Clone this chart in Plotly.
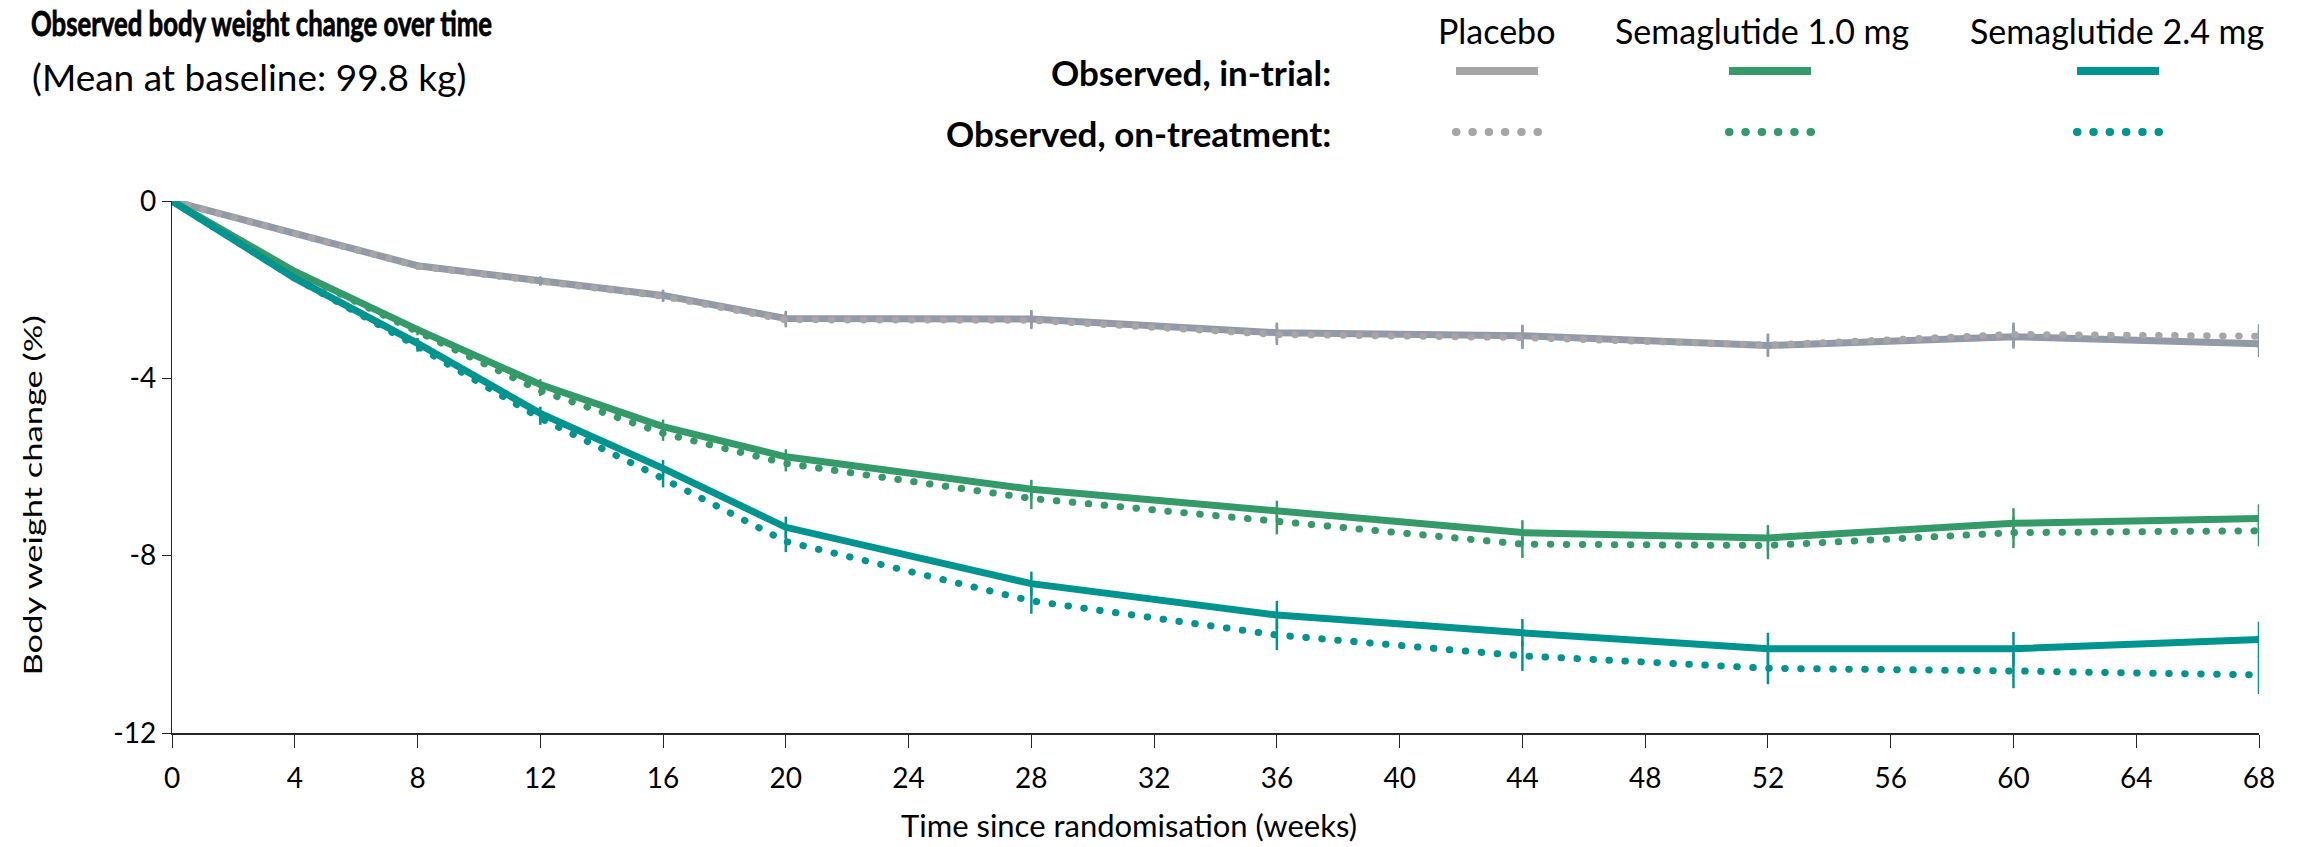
import json
import plotly.graph_objects as go

# ---- data -------------------------------------------------------------
weeks = [0, 4, 8, 12, 16, 20, 28, 36, 44, 52, 60, 68]

placebo_in_trial = [0, -0.74, -1.46, -1.80, -2.13, -2.65, -2.66, -2.97, -3.04, -3.26, -3.06, -3.22]
placebo_on_treat = [0, -0.74, -1.47, -1.81, -2.15, -2.68, -2.69, -3.01, -3.08, -3.25, -3.01, -3.05]
sema10_in_trial = [0, -1.59, -2.90, -4.14, -5.09, -5.77, -6.50, -6.99, -7.48, -7.60, -7.27, -7.16]
sema10_on_treat = [0, -1.60, -2.95, -4.28, -5.24, -5.92, -6.71, -7.23, -7.74, -7.77, -7.48, -7.44]
sema24_in_trial = [0, -1.74, -3.21, -4.79, -6.03, -7.36, -8.63, -9.34, -9.74, -10.10, -10.10, -9.89]
sema24_on_treat = [0, -1.74, -3.28, -4.90, -6.26, -7.68, -9.02, -9.79, -10.26, -10.54, -10.60, -10.69]

placebo_in_trial_err = [0, 0.05, 0.08, 0.10, 0.13, 0.17, 0.20, 0.23, 0.25, 0.25, 0.27, 0.30]
placebo_on_treat_err = [0, 0.05, 0.08, 0.10, 0.13, 0.17, 0.20, 0.24, 0.26, 0.26, 0.27, 0.27]
sema10_in_trial_err = [0, 0.05, 0.08, 0.12, 0.16, 0.17, 0.21, 0.23, 0.28, 0.29, 0.34, 0.32]
sema10_on_treat_err = [0, 0.05, 0.08, 0.12, 0.17, 0.18, 0.24, 0.29, 0.31, 0.31, 0.35, 0.35]
sema24_in_trial_err = [0, 0.06, 0.12, 0.15, 0.19, 0.24, 0.27, 0.32, 0.31, 0.36, 0.38, 0.40]
sema24_on_treat_err = [0, 0.06, 0.12, 0.15, 0.20, 0.24, 0.29, 0.34, 0.34, 0.36, 0.39, 0.43]

group_names = ["Placebo", "Semaglutide 1.0 mg", "Semaglutide 2.4 mg"]
row_labels = ["Observed, in-trial:", "Observed, on-treatment:"]
x_ticks = list(range(0, 72, 4))
y_ticks = [0, -4, -8, -12]

# ---- styling ----------------------------------------------------------
W, H = 2305, 847
L, R, T, B = 172, 46, 201, 114
FONT = "Lato"
LINE_W = 7
DOT_DASH = "0.5px,15.5px"

solid_colors = ["#9299A7", "#359A69", "#009490"]
dot_colors = ["#A6A6A6", "#359A69", "#009490"]
legend_solid_colors = ["#A6A6A6", "#359A69", "#009490"]

series = [
    (placebo_in_trial, placebo_in_trial_err, placebo_on_treat, placebo_on_treat_err),
    (sema10_in_trial, sema10_in_trial_err, sema10_on_treat, sema10_on_treat_err),
    (sema24_in_trial, sema24_in_trial_err, sema24_on_treat, sema24_on_treat_err),
]

fig = go.Figure()
for i, (it, it_err, ot, ot_err) in enumerate(series):
    fig.add_trace(go.Scatter(
        x=weeks, y=it, mode="lines", name=group_names[i] + " in-trial",
        line=dict(color=solid_colors[i], width=LINE_W),
        error_y=dict(type="data", array=it_err, color=solid_colors[i], thickness=2.5, width=0),
        cliponaxis=False, showlegend=False, hoverinfo="skip",
    ))
    fig.add_trace(go.Scatter(
        x=weeks, y=ot, mode="lines", name=group_names[i] + " on-treatment",
        line=dict(color=dot_colors[i], width=LINE_W, dash=DOT_DASH),
        error_y=dict(type="data", array=ot_err, color=solid_colors[i], thickness=2.5, width=0),
        cliponaxis=False, showlegend=False, hoverinfo="skip",
    ))

PW, PH = W - L - R, H - T - B


def px(xp):
    return (xp - L) / PW


def py(yp):
    return (H - B - yp) / PH


annotations = []
shapes = []
text_lengths = {}  # annotation index -> rendered text length in px
heavy = []         # annotation indices drawn with a thin outline for extra weight


def note(text, x, y, size, xanchor="center", angle=0, length=None, weight="normal", outline=False):
    if length is not None:
        text_lengths[len(annotations)] = length
    if outline:
        heavy.append(len(annotations))
    annotations.append(dict(text=text, x=px(x), y=py(y), xref="paper", yref="paper",
                            xanchor=xanchor, yanchor="middle", textangle=angle,
                            showarrow=False,
                            font=dict(family=FONT, size=size, color="#000", weight=weight)))


# title block (title held to a fixed width, centred on its span)
note("Observed body weight change over time", (31 + 492) / 2, 22, 35, length=461,
     weight="bold", outline=True)
note("(Mean at baseline: 99.8 kg)", 30, 76, 37, xanchor="left")

# legend block
col_centers = [1496, 1762, 2117]
seg_x = [(1456, 1538), (1729, 1811), (2077, 2159)]
row_y = [71, 132]
for i, name in enumerate(group_names):
    note(name, col_centers[i], 30, 34)
    x0, x1 = seg_x[i]
    shapes.append(dict(type="line", xref="paper", yref="paper",
                       x0=px(x0), x1=px(x1), y0=py(row_y[0]), y1=py(row_y[0]),
                       line=dict(color=legend_solid_colors[i], width=8)))
    shapes.append(dict(type="line", xref="paper", yref="paper",
                       x0=px(x0), x1=px(x1 + 2), y0=py(row_y[1]), y1=py(row_y[1]),
                       line=dict(color=dot_colors[i], width=8, dash="0.5px,15.8px")))
for j, lab in enumerate(row_labels):
    note(lab, 1333, row_y[j] + 1, 35, xanchor="right", weight="bold")

# axis titles
note("Time since randomisation (weeks)", 1129, 825, 31)
note("Body weight change (%)", 32, 496, 25, angle=-90, length=360)

fig.update_layout(
    width=W, height=H,
    margin=dict(l=L, r=R, t=T, b=B, pad=0),
    paper_bgcolor="white", plot_bgcolor="white",
    showlegend=False,
    annotations=annotations, shapes=shapes,
    font=dict(family=FONT, color="#000"),
)
fig.update_xaxes(
    range=[0, 68], tickvals=x_ticks, ticktext=[str(v) for v in x_ticks],
    showgrid=False, zeroline=False, showline=True, linecolor="#262626", linewidth=2,
    ticks="outside", ticklen=13, tickwidth=1.3, tickcolor="#262626",
    ticklabelstandoff=6, tickfont=dict(family=FONT, size=28, color="#000"),
)
fig.update_yaxes(
    range=[-12, 0], tickvals=y_ticks, ticktext=[str(v) for v in y_ticks],
    showgrid=False, zeroline=False, showline=True, linecolor="#262626", linewidth=1.3,
    ticks="outside", ticklen=9, tickwidth=1.3, tickcolor="#262626",
    tickfont=dict(family=FONT, size=28, color="#000"),
)

# round line caps turn the near-zero dashes into dots; fixed text lengths
post = """
var gd = document.getElementById('{plot_id}');
var lengths = LENGTHS;
var heavy = HEAVY;
function finish() {
  gd.querySelectorAll('path').forEach(function (p) {
    var d = p.style.strokeDasharray || p.getAttribute('stroke-dasharray') || '';
    if (d.indexOf('0.5px') === 0) { p.style.strokeLinecap = 'round'; }
  });
  Object.keys(lengths).forEach(function (k) {
    var t = gd.querySelector('.annotation[data-index="' + k + '"] text.annotation-text');
    if (t) {
      t.setAttribute('textLength', lengths[k]);
      t.setAttribute('lengthAdjust', 'spacingAndGlyphs');
    }
  });
  heavy.forEach(function (k) {
    var t = gd.querySelector('.annotation[data-index="' + k + '"] text.annotation-text');
    if (t) {
      t.style.stroke = '#000';
      t.style.strokeWidth = '0.8px';
      t.style.strokeLinejoin = 'round';
    }
  });
}
finish();
gd.on('plotly_afterplot', finish);
""".replace("LENGTHS", json.dumps(text_lengths)).replace("HEAVY", json.dumps(heavy))

fig.write_html("out.html", post_script=post)
